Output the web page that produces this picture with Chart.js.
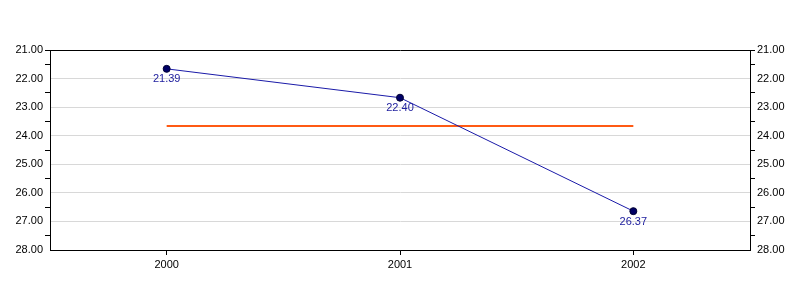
<!DOCTYPE html>
<html>
<head>
<meta charset="utf-8">
<script src="https://cdn.jsdelivr.net/npm/chart.js@4/dist/chart.umd.min.js"></script>
<style>
html,body{margin:0;padding:0;background:#fff;}
#wrap{width:800px;height:300px;}
</style>
</head>
<body>
<div id="wrap"><canvas id="c" width="800" height="300"></canvas></div>
<script>
const categories = ['2000', '2001', '2002'];
const values = [21.39, 22.40, 26.37];
const averageValues = [23.39, 23.39, 23.39];
const tickLabels = ['21.00', '22.00', '23.00', '24.00', '25.00', '26.00', '27.00', '28.00'];

// the original chart draws its marks ~0.27 units below the printed tick values
const axisShift = 0.27;
const axisMin = 21 - axisShift;
const axisMax = 28 - axisShift;

const FONT = {family: '"Liberation Sans", Arial, sans-serif', size: 11};

function buildTicks(scale) {
  const t = [];
  for (let i = 0; i <= 14; i++) t.push({value: axisMin + i * 0.5});
  scale.ticks = t;
}
function yScale(position, onArea) {
  return {
    type: 'linear',
    position: position,
    reverse: true,
    min: axisMin,
    max: axisMax,
    afterBuildTicks: buildTicks,
    afterFit: s => { s.width = 50; },
    border: {display: true, color: '#000', width: 1},
    grid: {
      drawOnChartArea: onArea,
      drawTicks: true,
      tickLength: 5,
      lineWidth: 1,
      color: ctx => {
        const i = ctx.index;
        if (i === 0 || i === 14) return '#000';
        return i % 2 === 0 ? '#d8d8d8' : 'rgba(0,0,0,0)';
      },
      tickColor: ctx => (ctx.index % 2 === 1 || ctx.index === 0 ? '#000' : 'rgba(0,0,0,0)')
    },
    ticks: {
      autoSkip: false,
      padding: 2,
      color: '#000',
      font: FONT,
      callback: (v, i) => (i % 2 === 0 ? tickLabels[i / 2] : '')
    }
  };
}

const pointLabelPlugin = {
  id: 'pointLabels',
  afterDatasetsDraw(chart) {
    const meta = chart.getDatasetMeta(0);
    const ctx = chart.ctx;
    ctx.save();
    ctx.font = '11px "Liberation Sans", Arial, sans-serif';
    ctx.fillStyle = '#2222a0';
    ctx.textAlign = 'center';
    ctx.textBaseline = 'top';
    meta.data.forEach((pt, i) => {
      ctx.fillText(values[i].toFixed(2), pt.x, pt.y + 5);
    });
    ctx.restore();
  }
};

new Chart(document.getElementById('c'), {
  type: 'line',
  data: {
    labels: categories,
    datasets: [
      {
        label: 'Value',
        data: values,
        borderColor: '#1a1aa8',
        borderWidth: 1,
        pointRadius: 3.5,
        pointBackgroundColor: '#000066',
        pointBorderColor: '#000033',
        pointBorderWidth: 1,
        tension: 0,
        yAxisID: 'y',
        order: 0
      },
      {
        label: 'Average',
        data: averageValues,
        borderColor: '#ff5a14',
        borderWidth: 2,
        pointRadius: 0,
        tension: 0,
        yAxisID: 'y',
        order: 1
      }
    ]
  },
  options: {
    responsive: false,
    animation: false,
    devicePixelRatio: 1,
    layout: {padding: {top: 50, left: 0, right: 0, bottom: 0}},
    plugins: {legend: {display: false}, tooltip: {enabled: false}},
    scales: {
      x: {
        type: 'category',
        offset: true,
        afterFit: s => { s.height = 50; },
        border: {display: true, color: '#000', width: 1},
        grid: {offset: false, drawOnChartArea: false, drawTicks: true, tickLength: 5, color: '#000', tickColor: '#000'},
        ticks: {color: '#000', font: FONT, padding: 3}
      },
      y: yScale('left', true),
      y2: yScale('right', false)
    }
  },
  plugins: [pointLabelPlugin]
});
</script>
</body>
</html>
